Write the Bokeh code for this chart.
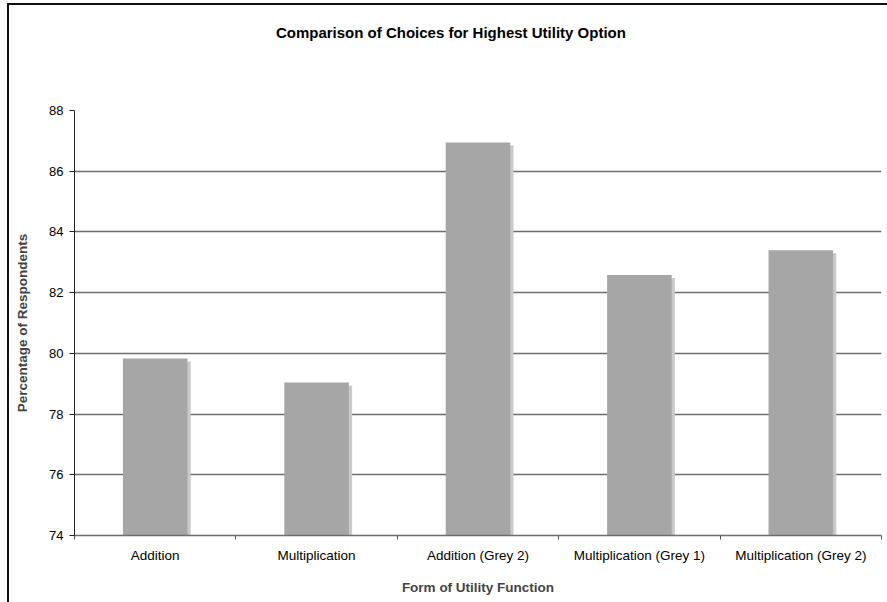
from bokeh.plotting import figure
from bokeh.models import FixedTicker, ColumnDataSource, Range1d, LinearAxis
from bokeh.embed import file_html
from bokeh.resources import INLINE

# Survey results: share of respondents choosing the highest-utility option
categories = ["Addition", "Multiplication", "Addition (Grey 2)",
              "Multiplication (Grey 1)", "Multiplication (Grey 2)"]
percentages = [79.83, 79.04, 86.95, 82.58, 83.40]
y_ticks = [74, 76, 78, 80, 82, 84, 86, 88]
chart_title = "Comparison of Choices for Highest Utility Option"

FONT = "Liberation Sans"

# bars sit at the centre of each category slot on a 0..N numeric axis
centers = [i + 0.5 for i in range(len(categories))]
bounds = list(range(len(categories) + 1))

src = ColumnDataSource(dict(x=centers, top=percentages))
shadow = ColumnDataSource(dict(x=[c + 0.02 for c in centers],
                               top=[v - 0.1 for v in percentages]))

p = figure(frame_width=807, frame_height=425,
           min_border_left=65, min_border_right=6,
           min_border_top=105, min_border_bottom=67,
           x_range=Range1d(0, len(categories)), y_range=Range1d(74, 88),
           output_backend="svg", toolbar_location=None,
           background_fill_color="white", border_fill_color="white")
p.margin = (3, 0, 0, 7)
p.styles = {"border-left": "2px solid #111111", "border-top": "2px solid #111111"}
p.outline_line_color = None

# title carried by a bare axis above the frame (no line, ticks or labels);
# trailing no-break spaces nudge the centred title to the left
title_axis = LinearAxis(ticker=FixedTicker(ticks=[]),
                        axis_line_color=None, major_tick_line_color=None,
                        minor_tick_line_color=None,
                        major_tick_in=0, major_tick_out=0,
                        minor_tick_in=0, minor_tick_out=0,
                        major_label_standoff=0,
                        axis_label=chart_title + "\u00a0" * 13,
                        axis_label_standoff=70,
                        axis_label_text_font=FONT,
                        axis_label_text_font_size="15px",
                        axis_label_text_font_style="bold",
                        axis_label_text_color="#000000")
p.add_layout(title_axis, "above")

# soft drop shadow behind each bar, then the bar itself
p.vbar(x="x", top="top", bottom=74, width=0.4, source=shadow,
       fill_color="#c9c9c9", line_color=None)
p.vbar(x="x", top="top", bottom=74, width=0.4, source=src,
       fill_color="#a6a6a6", line_color=None)

# y axis
p.yaxis.ticker = FixedTicker(ticks=y_ticks)
p.yaxis.axis_label = "Percentage of Respondents"
p.yaxis.axis_label_text_font = FONT
p.yaxis.axis_label_text_font_size = "13.5px"
p.yaxis.axis_label_text_font_style = "bold"
p.yaxis.axis_label_standoff = 16
p.yaxis.major_label_text_font = FONT
p.yaxis.major_label_text_font_size = "13px"
p.yaxis.major_label_text_color = "#000000"
p.yaxis.major_label_standoff = 6
p.yaxis.major_tick_in = 0
p.yaxis.major_tick_out = 5
p.yaxis.minor_tick_line_color = None
p.yaxis.axis_line_color = "#222222"
p.yaxis.major_tick_line_color = "#222222"

# x axis: labels at slot centres, short ticks at slot boundaries
xaxis = p.below[0]
xaxis.ticker = FixedTicker(ticks=centers, minor_ticks=bounds)
xaxis.major_label_overrides = {c: name for c, name in zip(centers, categories)}
xaxis.axis_label = "Form of Utility Function"
xaxis.axis_label_text_font = FONT
xaxis.axis_label_text_font_size = "13.5px"
xaxis.axis_label_text_font_style = "bold"
xaxis.axis_label_standoff = 14
xaxis.major_label_text_font = FONT
xaxis.major_label_text_font_size = "13.5px"
xaxis.major_label_text_color = "#000000"
xaxis.major_label_standoff = 8
xaxis.major_tick_in = 0
xaxis.major_tick_out = 0
xaxis.minor_tick_in = 0
xaxis.minor_tick_out = 4
xaxis.minor_tick_line_color = "#555555"
xaxis.axis_line_color = "#6e6e6e"
xaxis.axis_line_width = 1.5

# horizontal gridlines only
p.xgrid.grid_line_color = None
p.ygrid.ticker = FixedTicker(ticks=y_ticks)
p.ygrid.grid_line_color = "#6e6e6e"
p.ygrid.grid_line_width = 1.5

open("out.html", "w").write(file_html(p, INLINE))
